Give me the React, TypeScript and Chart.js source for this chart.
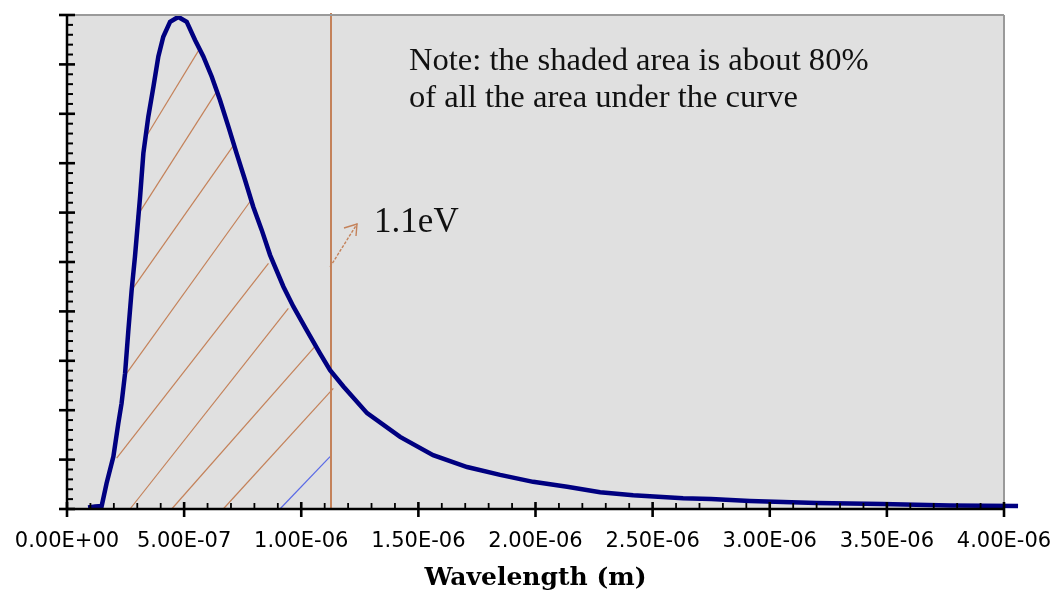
import React, { useEffect, useRef } from 'react';
import { Chart, registerables } from 'chart.js';

Chart.register(...registerables);

// ---- data ----
const WAVELENGTH_M = [
  0.9e-7, 1.2e-7, 1.48e-7, 1.69e-7, 1.98e-7, 2.19e-7, 2.33e-7, 2.48e-7, 2.62e-7, 2.76e-7,
  2.9e-7, 3.12e-7, 3.26e-7, 3.47e-7, 3.69e-7, 3.9e-7, 4.11e-7, 4.4e-7, 4.75e-7, 5.11e-7,
  5.47e-7, 5.82e-7, 6.18e-7, 6.53e-7, 6.89e-7, 7.24e-7, 7.6e-7, 7.95e-7, 8.31e-7, 8.67e-7,
  9.24e-7, 9.66e-7, 10.23e-7, 10.8e-7, 11.23e-7, 11.8e-7, 12.81e-7, 14.22e-7, 15.63e-7, 17.08e-7,
  18.49e-7, 19.9e-7, 21.35e-7, 22.76e-7, 24.17e-7, 26.3e-7, 27.5e-7, 29.16e-7, 32.0e-7, 34.8e-7,
  37.7e-7, 40.6e-7,
];
const INTENSITY = [
  0.3, 0.5, 0.6, 5.2, 10.6, 17.3, 21.4, 27.5, 36.2, 44.3,
  51.0, 63.2, 72.0, 79.4, 85.5, 91.6, 95.6, 98.6, 99.6, 98.6,
  94.9, 91.6, 87.5, 82.8, 77.4, 72.0, 66.6, 61.2, 56.5, 51.4,
  45.0, 41.0, 36.2, 31.5, 28.1, 24.8, 19.4, 14.6, 10.9, 8.5,
  6.9, 5.5, 4.5, 3.4, 2.8, 2.2, 2.0, 1.6, 1.2, 1.0,
  0.7, 0.6,
];

const X_MIN = 0;
const X_MAX = 4e-6;
const X_MAJOR_STEP = 5e-7;
const X_MINOR_STEP = 1e-7;
const Y_MIN = 0;
const Y_MAX = 100;
const Y_MAJOR_STEP = 10;
const Y_MINOR_STEP = 2;

const CUTOFF_M = 1.127e-6;
const CUTOFF_LABEL = '1.1eV';
const NOTE_LINES = ['Note: the shaded area is about 80%', 'of all the area under the curve'];
const X_TITLE = 'Wavelength (m)';

// hatch segments (wavelength, value) -> (wavelength, value)
const HATCH_START_M = [3.33e-7, 2.98e-7, 2.76e-7, 2.55e-7, 2.12e-7, 2.69e-7, 4.47e-7, 6.67e-7, 9.09e-7];
const HATCH_START_V = [75.0, 59.2, 44.3, 27.5, 10.3, 0, 0, 0, 0];
const HATCH_END_M = [5.68e-7, 6.39e-7, 7.17e-7, 7.81e-7, 8.6e-7, 9.45e-7, 10.59e-7, 11.37e-7, 11.23e-7];
const HATCH_END_V = [93.3, 84.5, 74.0, 62.2, 49.7, 40.6, 32.9, 24.4, 10.6];
const HATCH_IS_BLUE = [false, false, false, false, false, false, false, false, true];

// arrow pointing from the cutoff line to its label
const ARROW_FROM = [11.23e-7, 49.0];
const ARROW_TO = [12.38e-7, 57.7];
const NOTE_POS = [14.6e-7, 88.9];
const CUTOFF_LABEL_POS = [13.11e-7, 56.1];

// ---- styles ----
const BG = '#e0e0e0';
const CURVE = '#000080';
const BROWN = '#c4825a';
const HATCH_BLUE = '#5a6ae6';

function fmtExp(v: number): string {
  const s = (Math.abs(v) < 1e-20 ? 0 : v).toExponential(2);
  const [m, e] = s.split('e');
  const n = parseInt(e, 10);
  const sign = n < 0 ? '-' : '+';
  return m + 'E' + sign + String(Math.abs(n)).padStart(2, '0');
}

const decorPlugin = {
  id: 'decor',
  beforeDraw(chart: any) {
    const { ctx, chartArea: a } = chart;
    ctx.save();
    ctx.fillStyle = BG;
    ctx.fillRect(a.left, a.top, a.right - a.left, a.bottom - a.top);
    ctx.restore();
  },
  beforeDatasetsDraw(chart: any) {
    const { ctx, chartArea: a, scales } = chart;
    const xs = scales.x;
    const ys = scales.y;
    ctx.save();
    for (let i = 0; i < HATCH_START_M.length; i++) {
      ctx.beginPath();
      ctx.strokeStyle = HATCH_IS_BLUE[i] ? HATCH_BLUE : BROWN;
      ctx.lineWidth = 1.2;
      ctx.moveTo(xs.getPixelForValue(HATCH_START_M[i]), ys.getPixelForValue(HATCH_START_V[i]));
      ctx.lineTo(xs.getPixelForValue(HATCH_END_M[i]), ys.getPixelForValue(HATCH_END_V[i]));
      ctx.stroke();
    }
    const cx = Math.round(xs.getPixelForValue(CUTOFF_M));
    ctx.beginPath();
    ctx.strokeStyle = BROWN;
    ctx.lineWidth = 2;
    ctx.moveTo(cx, a.top - 2);
    ctx.lineTo(cx, a.bottom);
    ctx.stroke();
    const x0 = xs.getPixelForValue(ARROW_FROM[0]);
    const y0 = ys.getPixelForValue(ARROW_FROM[1]);
    const x1 = xs.getPixelForValue(ARROW_TO[0]);
    const y1 = ys.getPixelForValue(ARROW_TO[1]);
    ctx.beginPath();
    ctx.lineWidth = 1.4;
    ctx.setLineDash([3, 1.5]);
    ctx.moveTo(x0, y0);
    ctx.lineTo(x1, y1);
    ctx.stroke();
    ctx.setLineDash([]);
    ctx.beginPath();
    ctx.moveTo(x1 - 13, y1 + 4);
    ctx.lineTo(x1, y1);
    ctx.lineTo(x1 - 1, y1 + 12);
    ctx.stroke();
    ctx.fillStyle = '#111';
    ctx.textBaseline = 'alphabetic';
    ctx.textAlign = 'left';
    ctx.font = '32.6px "Liberation Serif", serif';
    const nx = xs.getPixelForValue(NOTE_POS[0]);
    const ny = ys.getPixelForValue(NOTE_POS[1]);
    NOTE_LINES.forEach((t, i) => ctx.fillText(t, nx, ny + i * 37));
    ctx.font = '35px "Liberation Serif", serif';
    ctx.fillText(CUTOFF_LABEL, xs.getPixelForValue(CUTOFF_LABEL_POS[0]), ys.getPixelForValue(CUTOFF_LABEL_POS[1]));
    ctx.restore();
  },
  afterDraw(chart: any) {
    const { ctx, chartArea: a, scales } = chart;
    const xs = scales.x;
    const ys = scales.y;
    ctx.save();
    ctx.strokeStyle = '#9a9a9a';
    ctx.lineWidth = 2;
    ctx.beginPath();
    ctx.moveTo(a.left, a.top);
    ctx.lineTo(a.right, a.top);
    ctx.moveTo(a.right, a.top);
    ctx.lineTo(a.right, a.bottom);
    ctx.stroke();
    ctx.strokeStyle = '#000';
    ctx.lineWidth = 2.5;
    ctx.beginPath();
    ctx.moveTo(a.left, a.top);
    ctx.lineTo(a.left, a.bottom + 1);
    ctx.moveTo(a.left - 1, a.bottom);
    ctx.lineTo(a.right, a.bottom);
    ctx.stroke();
    for (let v = Y_MIN; v <= Y_MAX + 1e-9; v += Y_MINOR_STEP) {
      const y = ys.getPixelForValue(v);
      const major = Math.abs(v / Y_MAJOR_STEP - Math.round(v / Y_MAJOR_STEP)) < 1e-6;
      ctx.lineWidth = major ? 2.6 : 2;
      ctx.beginPath();
      if (major) {
        ctx.moveTo(a.left - 8, y);
        ctx.lineTo(a.left + 8, y);
      } else {
        ctx.moveTo(a.left, y);
        ctx.lineTo(a.left + 6, y);
      }
      ctx.stroke();
    }
    const nMinor = Math.round((X_MAX - X_MIN) / X_MINOR_STEP);
    const perMajor = Math.round(X_MAJOR_STEP / X_MINOR_STEP);
    for (let i = 0; i <= nMinor; i++) {
      const x = xs.getPixelForValue(X_MIN + i * X_MINOR_STEP);
      const major = i % perMajor === 0;
      ctx.lineWidth = major ? 2.6 : 1.8;
      ctx.beginPath();
      if (major) {
        ctx.moveTo(x, a.bottom - 7);
        ctx.lineTo(x, a.bottom + 8);
      } else {
        ctx.moveTo(x, a.bottom - 6);
        ctx.lineTo(x, a.bottom);
      }
      ctx.stroke();
    }
    ctx.restore();
  },
};

export default function App() {
  const ref = useRef<HTMLCanvasElement | null>(null);
  useEffect(() => {
    if (!ref.current) return;
    const points = WAVELENGTH_M.map((x, i) => ({ x, y: INTENSITY[i] }));
    const chart = new Chart(ref.current, {
      type: 'line',
      data: {
        datasets: [
          {
            data: points,
            borderColor: CURVE,
            borderWidth: 4.5,
            pointRadius: 0,
            tension: 0,
            fill: false,
            clip: false as any,
          },
        ],
      },
      options: {
        animation: false,
        responsive: false,
        maintainAspectRatio: false,
        layout: { padding: { left: 67, right: 57, top: 15, bottom: 0 } },
        plugins: { legend: { display: false }, tooltip: { enabled: false } },
        scales: {
          x: {
            type: 'linear',
            min: X_MIN,
            max: X_MAX,
            afterFit: (s: any) => {
              s.height = 88;
              s.paddingLeft = 0;
              s.paddingRight = 0;
            },
            grid: { display: false, drawTicks: false },
            border: { display: false },
            ticks: {
              stepSize: X_MAJOR_STEP,
              autoSkip: false,
              maxRotation: 0,
              padding: 20,
              color: '#000',
              font: { family: '"DejaVu Sans", sans-serif', size: 21 },
              callback: (v: any) => fmtExp(Number(v)),
            },
            title: {
              display: true,
              text: X_TITLE,
              color: '#000',
              font: { family: '"DejaVu Serif", serif', size: 25, weight: 'bold' },
              padding: { top: 0, bottom: 4 },
            },
          },
          y: {
            type: 'linear',
            display: false,
            min: Y_MIN,
            max: Y_MAX,
          },
        },
      },
      plugins: [decorPlugin],
    });
    return () => chart.destroy();
  }, []);
  return (
    <div style={{ position: 'fixed', left: 0, top: 0, width: 1061, height: 597, background: '#fff' }}>
      <canvas ref={ref} width={1061} height={597} style={{ display: 'block' }} />
    </div>
  );
}
